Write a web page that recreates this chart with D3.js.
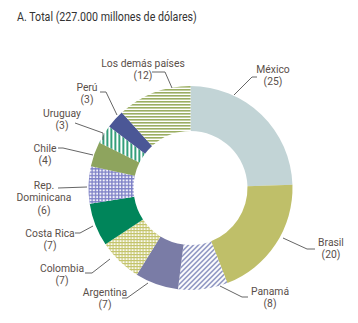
<!DOCTYPE html>
<html><head><meta charset="utf-8">
<script src="https://cdn.jsdelivr.net/npm/d3@7"></script>
<style>
body{margin:0;background:#fff;}
text{font-family:Roboto,"Liberation Sans Narrow","DejaVu Sans Condensed",sans-serif;}
</style></head>
<body><svg id="c" width="358" height="323"></svg>
<script>
const title = "A. Total (227.000 millones de dólares)";
const countries = ["México","Brasil","Panamá","Argentina","Colombia","Costa Rica","Rep. Dominicana","Chile","Uruguay","Perú","Los demás países"];
const values = [25,20,8,7,7,7,6,4,3,3,12];
const labelLines = [["México","(25)"],["Brasil","(20)"],["Panamá","(8)"],["Argentina","(7)"],["Colombia","(7)"],["Costa Rica","(7)"],["Rep.","Dominicana","(6)"],["Chile","(4)"],["Uruguay","(3)"],["Perú","(3)"],["Los demás países","(12)"]];

const svg = d3.select("#c");
const cx = 190.5, cy = 188, R = 102, r = 57;
const defs = svg.append("defs");
function pat(id, w, h, bg, draw){
  const p = defs.append("pattern").attr("id",id).attr("patternUnits","userSpaceOnUse").attr("width",w).attr("height",h);
  p.append("rect").attr("width",w).attr("height",h).attr("fill",bg);
  draw(p);
}
pat("pPan",5,5,"#fff",p=>{p.append("path").attr("d","M-1,1 L1,-1 M0,5 L5,0 M4,6 L6,4").attr("stroke","#5b65a6").attr("stroke-width",1.1);});
pat("pCol",3,3,"#fff",p=>{p.append("rect").attr("width",3).attr("height",1.2).attr("fill","#c4c46c");p.append("rect").attr("width",1.2).attr("height",3).attr("fill","#c4c46c");});
pat("pDom",3.3,3.3,"#f4f4fb",p=>{p.append("rect").attr("width",3.3).attr("height",1.3).attr("fill","#7d80c6");p.append("rect").attr("width",1.3).attr("height",3.3).attr("fill","#7d80c6");});
pat("pUru",4,4,"#fff",p=>{p.append("rect").attr("width",1.6).attr("height",4).attr("fill","#00875a");});
pat("pDem",4,3,"#fff",p=>{p.append("rect").attr("width",4).attr("height",1.6).attr("fill","#9bae62");});

const fills = ["#c2d4d6","#bfbf69","url(#pPan)","#7a7ca6","url(#pCol)","#00855a","url(#pDom)","#8ea45e","url(#pUru)","#4b5796","url(#pDem)"];

const tt = svg.append("text").attr("font-size",13.5).attr("fill","#333").text(title);
const tw = tt.node().getComputedTextLength();
tt.attr("transform",`translate(17,21) scale(${Math.min(1,180/tw)},1)`);

const pie = d3.pie().sort(null).value(d=>d);
const arcs = pie(values);
const arc = d3.arc().innerRadius(r).outerRadius(R);
const g = svg.append("g").attr("transform",`translate(${cx},${cy})`);
g.selectAll("path").data(arcs).join("path").attr("d",arc).attr("fill",(d,i)=>fills[i]);

const layout = [
  {pts:[[234,95],[252,77],[257,77]], x:273, y:69},
  {pts:[[283,238],[307,249],[315,249]], x:331, y:242},
  {pts:[[220,286],[242,297],[248,297]], x:270, y:291},
  {pts:[[148,283],[127,298],[122,298]], x:105, y:292},
  {pts:[[110,259],[92,273],[85,273]], x:62, y:268},
  {pts:[[93,226],[80,233],[75,233]], x:50, y:233},
  {pts:[[87,187],[58,188]], x:44, y:185},
  {pts:[[93,155],[63,148],[58,148]], x:45, y:148},
  {pts:[[103,140],[103,133],[75,123]], x:62, y:113},
  {pts:[[117,115],[106,92],[100,92]], x:87, y:87},
  {pts:[[172,88],[165,72],[152,72]], x:143, y:63}
];
const lg = svg.append("g");
lg.selectAll("polyline").data(layout).join("polyline")
  .attr("points",d=>d.pts.map(p=>p.join(",")).join(" "))
  .attr("fill","none").attr("stroke","#666").attr("stroke-width",1);
labelLines.forEach((lines,i)=>{
  const t = lg.append("text").attr("text-anchor","middle").attr("font-size",11.5).attr("fill","#5a4f4a")
    .attr("transform",`translate(${layout[i].x},${layout[i].y+4}) scale(0.9,1)`);
  lines.forEach((s,j)=>{
    t.append("tspan").attr("x",0).attr("y",j*12.5).text(s);
  });
});
</script></body></html>
